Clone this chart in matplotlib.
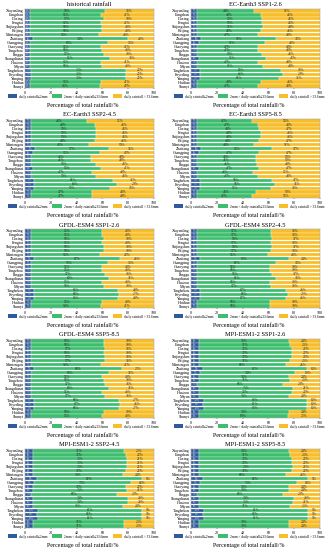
import matplotlib
matplotlib.use("Agg")
import matplotlib.pyplot as plt
from matplotlib.patches import Patch

plt.rcParams['font.family'] = ['Liberation Serif', 'DejaVu Serif']

stations = ["Xiayunling", "Fangshan", "Daxing", "Fengtai", "Shijingshan", "Beijing",
            "Mentougou", "Zhaitang", "Changping", "Chaoyang", "Tongzhou", "Pinggu",
            "Shangdianzi", "Huairou", "Miyun", "Tanghekou", "Foyeding", "Yanqing",
            "Haidian", "Shunyi"]

titles = ["historical rainfall", "EC-Earth3 SSP1-2.6", "EC-Earth3 SSP2-4.5", "EC-Earth3 SSP5-8.5",
          "GFDL-ESM4 SSP1-2.6", "GFDL-ESM4 SSP2-4.5", "GFDL-ESM4 SSP5-8.5",
          "MPI-ESM1-2 SSP1-2.6", "MPI-ESM1-2 SSP2-4.5", "MPI-ESM1-2 SSP5-8.5"]

# historical
hist_low = [4,4,4,4,4,4,4,6,4,4,4,4,4,4,4,5,5,5,4,4]
hist_mid = [58,55,57,55,56,56,53,74,60,55,56,57,62,55,56,73,73,73,55,54]
hist_high = [38,41,39,41,40,40,43,20,36,41,40,39,34,41,40,22,22,22,41,42]
# EC-Earth3
ec126_low = [5,5,5,5,5,5,5,8,6,5,5,5,6,5,5,7,7,7,5,5]
ec126_mid = [44,49,50,50,51,49,47,58,51,47,47,50,52,47,51,63,64,61,49,47]
ec126_high = [51,46,45,45,44,46,48,34,43,48,48,45,42,48,44,30,29,32,46,48]
ec245_low = [5,5,5,5,5,5,5,8,6,5,5,5,6,5,5,7,7,7,5,5]
ec245_mid = [43,49,50,50,50,49,45,57,52,46,46,50,53,47,50,61,64,59,47,47]
ec245_high = [52,46,45,45,45,46,50,35,42,49,49,45,41,48,45,32,29,34,48,48]
ec585_low = [5,5,5,5,5,5,5,8,6,5,5,5,6,5,5,7,7,7,5,5]
ec585_mid = [42,47,48,49,49,48,44,55,47,45,45,46,47,43,47,56,58,55,45,42]
ec585_high = [53,48,47,46,46,47,51,37,47,50,50,49,47,52,48,37,35,38,50,53]
# GFDL-ESM4
gf126_low = [5,5,5,5,5,5,5,7,5,5,5,5,5,5,5,7,7,7,5,5]
gf126_mid = [55,55,56,55,56,56,53,67,59,55,55,57,60,55,56,65,66,65,55,54]
gf126_high = [40,40,39,40,39,39,42,26,36,40,40,38,35,40,39,28,27,28,40,41]
gf245_low = [5,5,5,5,5,5,5,7,5,5,5,5,5,5,5,7,7,7,5,5]
gf245_mid = [57,57,58,57,58,57,55,69,61,56,56,58,61,56,57,67,68,67,56,56]
gf245_high = [38,38,37,38,37,38,40,24,34,39,39,37,34,39,38,26,25,26,39,39]
gf585_low = [5,5,5,5,5,5,5,7,5,5,5,5,5,5,5,7,7,7,5,5]
gf585_mid = [56,56,57,56,57,57,54,68,60,55,56,57,60,55,57,66,67,66,56,55]
gf585_high = [39,39,38,39,38,38,41,25,35,40,39,38,35,40,38,27,26,27,39,40]
# MPI-ESM1-2
mp126_low = [6,6,6,6,6,6,6,9,7,6,6,5,6,6,6,10,9,10,6,6]
mp126_mid = [70,71,72,72,72,71,68,81,74,70,71,66,73,72,70,80,81,80,70,69]
mp126_high = [24,23,22,22,22,23,26,10,19,24,23,29,21,22,24,10,10,10,24,25]
mp245_low = [6,6,6,6,6,6,6,9,7,6,6,5,6,6,6,10,9,10,6,6]
mp245_mid = [71,72,73,73,73,72,70,82,75,72,73,66,74,74,70,81,82,81,71,71]
mp245_high = [23,22,21,21,21,22,24,9,18,22,21,29,20,20,24,9,9,9,23,23]
mp585_low = [6,6,6,6,6,6,6,9,7,6,6,5,6,6,6,10,9,10,6,6]
mp585_mid = [70,71,72,72,73,72,68,82,75,70,70,66,74,73,71,81,82,81,70,70]
mp585_high = [24,23,22,22,21,22,26,9,18,24,24,29,20,21,23,9,9,9,24,24]

panels = [
    (hist_low, hist_mid, hist_high),
    (ec126_low, ec126_mid, ec126_high),
    (ec245_low, ec245_mid, ec245_high),
    (ec585_low, ec585_mid, ec585_high),
    (gf126_low, gf126_mid, gf126_high),
    (gf245_low, gf245_mid, gf245_high),
    (gf585_low, gf585_mid, gf585_high),
    (mp126_low, mp126_mid, mp126_high),
    (mp245_low, mp245_mid, mp245_high),
    (mp585_low, mp585_mid, mp585_high),
]

legend_labels = ["daily rainfall\u22642mm", "2mm < daily rainfall\u226433.6mm", "daily rainfall > 33.6mm"]
colors = ["#2F5B9C", "#3DBE6E", "#F7BE2A"]

W, H = 331, 550
fig = plt.figure(figsize=(W/100, H/100), dpi=100)

for i, (low, mid, high) in enumerate(panels):
    r, c = divmod(i, 2)
    x0 = c*166 + 25
    top = r*110 + 9
    ax = fig.add_axes([x0/W, 1 - (top+79)/H, 129/W, 79/H])
    y = list(range(len(stations)))
    left2 = [a for a in low]
    left3 = [a+b for a, b in zip(low, mid)]
    b1 = ax.barh(y, low, color=colors[0], height=0.82, edgecolor='white', linewidth=0.2)
    b2 = ax.barh(y, mid, left=left2, color=colors[1], height=0.82, edgecolor='white', linewidth=0.2)
    b3 = ax.barh(y, high, left=left3, color=colors[2], height=0.82, edgecolor='white', linewidth=0.2)
    ax.bar_label(b1, labels=[f"{v}%" for v in low], label_type='center', fontsize=1.8, color='#dddddd')
    ax.bar_label(b2, labels=[f"{v}%" for v in mid], label_type='center', fontsize=2.6, color='#222222')
    ax.bar_label(b3, labels=[f"{v}%" for v in high], label_type='center', fontsize=2.6, color='#222222')
    ax.set_xlim(0, 100)
    ax.set_ylim(len(stations)-0.5, -0.5)
    ax.set_yticks(y)
    ax.set_yticklabels(stations, fontsize=2.9)
    ax.set_xticks([0, 20, 40, 60, 80, 100])
    ax.tick_params(axis='x', labelsize=3, length=1, width=0.3, pad=0.8)
    ax.tick_params(axis='y', length=0, pad=0.8)
    for s in ax.spines.values():
        s.set_linewidth(0.3)
        s.set_color('#888888')
    pc = c*166 + 83
    fig.text((x0+64.5)/W, 1 - (r*110 + 5)/H, titles[i], ha='center', va='center', fontsize=4.6)
    fig.text(pc/W, 1 - (r*110 + 105)/H, "Percentage of total rainfall/%", ha='center', va='center', fontsize=4.3)
    handles = [Patch(facecolor=col, edgecolor='none') for col in colors]
    fig.legend(handles, legend_labels, loc='center', bbox_to_anchor=(pc/W, 1 - (r*110 + 96.5)/H),
               ncol=3, fontsize=2.6, frameon=False, handlelength=2.6, handleheight=1.3,
               columnspacing=1.4, handletextpad=0.5, borderpad=0, borderaxespad=0)

fig.savefig("out.png", dpi=100)
